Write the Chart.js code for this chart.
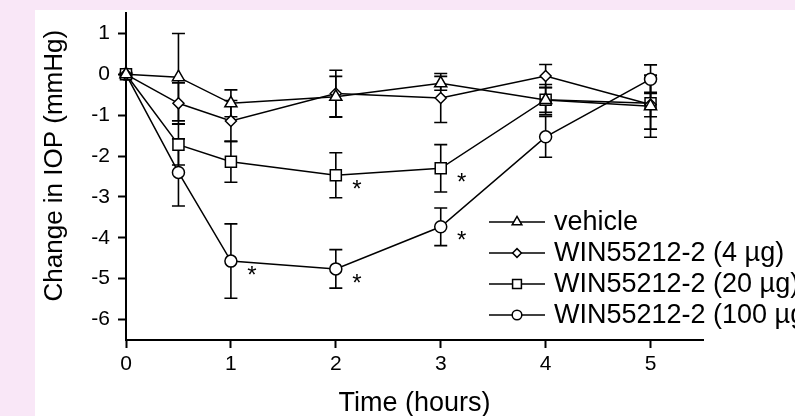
<!DOCTYPE html>
<html>
<head>
<meta charset="utf-8">
<script src="https://cdn.jsdelivr.net/npm/chart.js@4.4.1/dist/chart.umd.min.js"></script>
<style>
  html, body { margin: 0; padding: 0; }
  body { width: 795px; height: 416px; background: #f9e7f7; position: relative; overflow: hidden; }
  #panel { position: absolute; left: 35px; top: 10px; right: 0; bottom: 0; background: #fff; }
  #chart { position: absolute; left: 0; top: 0; }
</style>
</head>
<body>
<div id="panel"></div>
<canvas id="chart" width="795" height="416"></canvas>
<script>
const times = [0, 0.5, 1, 2, 3, 4, 5];
const xTicks = [0, 1, 2, 3, 4, 5];
const yTicks = [-6, -5, -4, -3, -2, -1, 0, 1];

const vehicle = [0, -0.07, -0.71, -0.55, -0.22, -0.63, -0.78];
const vehicleErr = [0, 1.07, 0.33, 0.5, 0.17, 0.3, 0.76];
const win4 = [0, -0.71, -1.14, -0.47, -0.58, -0.04, -0.74];
const win4Err = [0, 0.5, 0.5, 0.57, 0.6, 0.28, 0.3];
const win20 = [0, -1.72, -2.14, -2.47, -2.3, -0.62, -0.71];
const win20Err = [0, 0.5, 0.5, 0.55, 0.58, 0.37, 0.63];
const win100 = [0, -2.4, -4.57, -4.76, -3.73, -1.53, -0.12];
const win100Err = [0, 0.82, 0.91, 0.47, 0.46, 0.5, 0.35];

// time points marked with * (p < 0.05)
const sig20 = [2, 3];
const sig100 = [1, 2, 3];

const labels = ['vehicle', 'WIN55212-2 (4 \u00b5g)', 'WIN55212-2 (20 \u00b5g)', 'WIN55212-2 (100 \u00b5g)'];
const styles = ['triangle', 'rectRot', 'rect', 'circle'];
const radii = [7, 5.5, 7.8, 6];

const FONT = '"Liberation Sans", Arial, Helvetica, sans-serif';

function series(values, errs, idx, sig) {
  return {
    label: labels[idx],
    data: times.map((t, i) => ({ x: t, y: values[i] })),
    errors: errs,
    sig: sig || [],
    showLine: true,
    tension: 0,
    borderColor: '#000',
    borderWidth: 1.5,
    pointStyle: styles[idx],
    pointRadius: radii[idx],
    pointBorderWidth: 1.5,
    pointBackgroundColor: '#fff',
    pointBorderColor: '#000',
    clip: false
  };
}

function drawMarker(ctx, style, x, y, r) {
  ctx.beginPath();
  if (style === 'circle') {
    ctx.arc(x, y, r, 0, Math.PI * 2);
  } else if (style === 'triangle') {
    for (let k = 0; k < 3; k++) {
      const a = k * 2 * Math.PI / 3;
      const px = x + Math.sin(a) * r, py = y - Math.cos(a) * r;
      k ? ctx.lineTo(px, py) : ctx.moveTo(px, py);
    }
    ctx.closePath();
  } else if (style === 'rectRot') {
    ctx.moveTo(x - r, y); ctx.lineTo(x, y - r); ctx.lineTo(x + r, y); ctx.lineTo(x, y + r);
    ctx.closePath();
  } else {
    const s = r * Math.SQRT1_2;
    ctx.rect(x - s, y - s, 2 * s, 2 * s);
  }
  ctx.fill();
  ctx.stroke();
}

const errorBars = {
  id: 'errorBars',
  beforeDatasetsDraw(chart) {
    const { ctx, scales: { x, y } } = chart;
    ctx.save();
    ctx.strokeStyle = '#000';
    ctx.lineWidth = 1.6;
    chart.data.datasets.forEach(ds => {
      ds.data.forEach((p, i) => {
        const e = ds.errors[i];
        if (!e) return;
        const px = x.getPixelForValue(p.x);
        const top = y.getPixelForValue(p.y + e);
        const bot = y.getPixelForValue(p.y - e);
        ctx.beginPath();
        ctx.moveTo(px, top); ctx.lineTo(px, bot);
        ctx.moveTo(px - 6.5, top); ctx.lineTo(px + 6.5, top);
        ctx.moveTo(px - 6.5, bot); ctx.lineTo(px + 6.5, bot);
        ctx.stroke();
      });
    });
    ctx.restore();
  }
};

const asterisks = {
  id: 'asterisks',
  afterDatasetsDraw(chart) {
    const { ctx, scales: { x, y } } = chart;
    ctx.save();
    ctx.fillStyle = '#000';
    ctx.font = '24px ' + FONT;
    ctx.textAlign = 'center';
    ctx.textBaseline = 'middle';
    chart.data.datasets.forEach(ds => {
      ds.sig.forEach(t => {
        const p = ds.data.find(d => d.x === t);
        ctx.fillText('*', x.getPixelForValue(p.x) + 21, y.getPixelForValue(p.y) + 15);
      });
    });
    ctx.restore();
  }
};

const lineLegend = {
  id: 'lineLegend',
  afterDraw(chart) {
    const { ctx } = chart;
    const x0 = 489, x1 = 545, xm = 517, tx = 554, y0 = 222, dy = 31;
    ctx.save();
    ctx.strokeStyle = '#000';
    ctx.lineWidth = 1.5;
    ctx.font = '27px ' + FONT;
    ctx.textBaseline = 'middle';
    chart.data.datasets.forEach((ds, i) => {
      const ly = y0 + i * dy;
      ctx.beginPath();
      ctx.moveTo(x0, ly); ctx.lineTo(x1, ly);
      ctx.stroke();
      ctx.fillStyle = '#fff';
      drawMarker(ctx, styles[i], xm, ly, radii[i] * 0.8);
      ctx.fillStyle = '#000';
      ctx.fillText(ds.label, tx, ly + 1);
    });
    ctx.restore();
  }
};

const axisCommon = {
  grid: { drawOnChartArea: false, drawTicks: true, tickLength: 8, tickWidth: 2, tickColor: '#000', color: '#000' },
  border: { display: true, color: '#000', width: 2 }
};

new Chart(document.getElementById('chart'), {
  type: 'scatter',
  data: {
    datasets: [
      series(vehicle, vehicleErr, 0),
      series(win4, win4Err, 1),
      series(win20, win20Err, 2, sig20),
      series(win100, win100Err, 3, sig100)
    ]
  },
  options: {
    responsive: false,
    devicePixelRatio: 1,
    animation: false,
    layout: { padding: { left: 35, top: 13, right: 92, bottom: 0 } },
    plugins: { legend: { display: false }, tooltip: { enabled: false } },
    scales: {
      x: {
        ...axisCommon,
        type: 'linear',
        min: 0,
        max: 5.5,
        afterBuildTicks: s => { s.ticks = xTicks.map(v => ({ value: v })); },
        afterFit: s => { s.height = 76; s.paddingLeft = 0; s.paddingRight = 0; },
        ticks: { color: '#000', font: { family: FONT, size: 21 }, padding: 4 },
        title: {
          display: true, text: 'Time (hours)', color: '#000',
          font: { family: FONT, size: 27, lineHeight: 1 }, padding: { top: 0, bottom: -1 }
        }
      },
      y: {
        ...axisCommon,
        type: 'linear',
        min: -6.5,
        max: 1.5,
        afterBuildTicks: s => { s.ticks = yTicks.map(v => ({ value: v })); },
        afterFit: s => { s.width = 91; s.paddingTop = 0; s.paddingBottom = 0; },
        ticks: { color: '#000', font: { family: FONT, size: 21 }, padding: 8 },
        title: {
          display: true, text: '   Change in IOP (mmHg)', color: '#000',
          font: { family: FONT, size: 26, lineHeight: 1.2 }, padding: { top: 4, bottom: 0 }
        }
      }
    }
  },
  plugins: [errorBars, asterisks, lineLegend]
});
</script>
</body>
</html>
